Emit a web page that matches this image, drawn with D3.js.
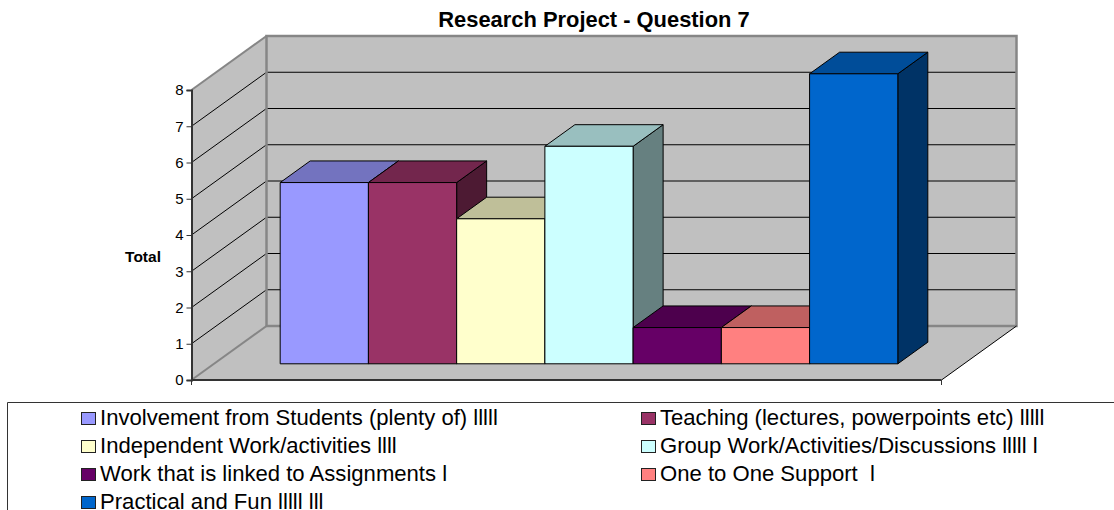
<!DOCTYPE html>
<html>
<head>
<meta charset="utf-8">
<script src="https://cdn.jsdelivr.net/npm/d3@7"></script>
<style>
html, body { margin: 0; padding: 0; background: #fff; overflow: hidden; }
svg { display: block; }
text { font-family: "Liberation Sans", Arial, sans-serif; fill: #000; }
</style>
</head>
<body>
<svg id="chart" width="1114" height="510"></svg>
<script>
var categories = [
    'Involvement from Students (plenty of) lllll',
    'Teaching (lectures, powerpoints etc) lllll',
    'Independent Work/activities llll',
    'Group Work/Activities/Discussions lllll l',
    'Work that is linked to Assignments l',
    'One to One Support  l',
    'Practical and Fun lllll lll'
];
var totals = [5, 5, 4, 6, 1, 1, 8];
var barColors = ['#9999ff', '#993366', '#ffffcc', '#ccffff', '#660066', '#ff8080', '#0066cc'];
var yTicks = [0, 1, 2, 3, 4, 5, 6, 7, 8];

var svg = d3.select('#chart');

// front plane of the box, the back wall is the same thing shifted by depth
var x = d3.scaleBand().domain(categories).range([191.5, 941.5]).paddingInner(0).paddingOuter(0.75);
var y = d3.scaleLinear().domain([0, 8]).range([380, 90]);
var depthX = 75, depthY = -54;

function pt(px, py, z) {
    return [px + z * depthX, py + z * depthY];
}
function poly(points) {
    return d3.line()(points) + 'Z';
}

var left = x.range()[0], right = x.range()[1];
var wallGrey = '#c0c0c0', edgeGrey = '#868686';

// back wall
svg.append('path')
    .attr('d', poly([pt(left, y(8), 1), pt(right, y(8), 1), pt(right, y(0), 1), pt(left, y(0), 1)]))
    .attr('fill', wallGrey).attr('stroke', 'none');

// side wall
svg.append('path')
    .attr('d', poly([pt(left, y(8), 0), pt(left, y(8), 1), pt(left, y(0), 1), pt(left, y(0), 0)]))
    .attr('fill', wallGrey).attr('stroke', 'none');

// floor
svg.append('path')
    .attr('d', poly([pt(left, y(0), 0), pt(left, y(0), 1), pt(right, y(0), 1), pt(right, y(0), 0)]))
    .attr('fill', wallGrey).attr('stroke', 'none');

// gridlines
yTicks.slice(1, -1).forEach(function(t) {
    svg.append('path')
        .attr('d', d3.line()([pt(left, y(t), 0), pt(left, y(t), 1), pt(right, y(t), 1)]))
        .attr('fill', 'none').attr('stroke', '#000').attr('stroke-width', 1);
});

// wall edges
svg.append('path')
    .attr('d', poly([pt(left, y(8), 1), pt(right, y(8), 1), pt(right, y(0), 1), pt(left, y(0), 1)]))
    .attr('fill', 'none').attr('stroke', edgeGrey).attr('stroke-width', 2.5);
svg.append('path')
    .attr('d', d3.line()([pt(left, y(8), 0), pt(left, y(8), 1)]))
    .attr('stroke', edgeGrey).attr('stroke-width', 2);
svg.append('path')
    .attr('d', d3.line()([pt(left, y(0), 0), pt(left, y(0), 1)]))
    .attr('stroke', edgeGrey).attr('stroke-width', 2);
svg.append('path')
    .attr('d', d3.line()([pt(right, y(0), 0), pt(right, y(0), 1)]))
    .attr('stroke', '#000').attr('stroke-width', 1);

// bars, left to right so each one covers the side of the one before
var zFront = 0.3, zBack = 0.7;
var bars = svg.selectAll('g.bar').data(categories).enter()
    .append('g').attr('class', 'bar');

bars.each(function(d, i) {
    var g = d3.select(this);
    var x0 = x(d), x1 = x(d) + x.bandwidth();
    var top = y(totals[i]), bot = y(0);
    var base = d3.rgb(barColors[i]);

    g.append('path')
        .attr('d', poly([pt(x1, top, zFront), pt(x1, top, zBack), pt(x1, bot, zBack), pt(x1, bot, zFront)]))
        .attr('fill', d3.rgb(base.r * 0.5, base.g * 0.5, base.b * 0.5));
    g.append('path')
        .attr('d', poly([pt(x0, top, zFront), pt(x0, top, zBack), pt(x1, top, zBack), pt(x1, top, zFront)]))
        .attr('fill', d3.rgb(base.r * 0.75, base.g * 0.75, base.b * 0.75));
    g.append('path')
        .attr('d', poly([pt(x0, top, zFront), pt(x1, top, zFront), pt(x1, bot, zFront), pt(x0, bot, zFront)]))
        .attr('fill', base);
    g.selectAll('path').attr('stroke', '#000').attr('stroke-width', 1).attr('stroke-linejoin', 'round');
});

// y axis
var yAxis = d3.axisLeft(y).tickValues(yTicks).tickFormat(d3.format('d')).tickSize(5).tickPadding(3);
var yAxisG = svg.append('g').attr('transform', 'translate(' + left + ',0)').call(yAxis);
yAxisG.select('.domain').attr('stroke', '#333').attr('stroke-width', 2);
yAxisG.selectAll('.tick line').attr('stroke', '#333');
yAxisG.selectAll('.tick text').attr('font-size', 15).attr('font-family', '"Liberation Sans", Arial, sans-serif');

// front edge of floor
svg.append('line')
    .attr('x1', left).attr('x2', right).attr('y1', y(0)).attr('y2', y(0))
    .attr('stroke', '#333').attr('stroke-width', 2);
[left, right].forEach(function(px) {
    svg.append('line')
        .attr('x1', px).attr('x2', px).attr('y1', y(0)).attr('y2', y(0) + 5)
        .attr('stroke', '#333');
});

// titles
svg.append('text').attr('x', 594).attr('y', 27).attr('text-anchor', 'middle')
    .attr('font-size', 21.9).attr('font-weight', 'bold').text('Research Project - Question 7');
svg.append('text').attr('x', 143).attr('y', 262).attr('text-anchor', 'middle')
    .attr('font-size', 15.5).attr('font-weight', 'bold').text('Total');

// legend box runs off the right and bottom of the picture
svg.append('path')
    .attr('d', 'M7.5,511V402.5H1115')
    .attr('fill', 'none').attr('stroke', '#333').attr('stroke-width', 1);

var legendX = [81, 641], legendY = 417, legendStep = 28;
var items = svg.selectAll('g.item').data(categories).enter()
    .append('g').attr('class', 'item')
    .attr('transform', function(d, i) {
        return 'translate(' + legendX[i % 2] + ',' + (legendY + Math.floor(i / 2) * legendStep) + ')';
    });
items.append('rect')
    .attr('x', 0.5).attr('y', -4.5).attr('width', 14).attr('height', 12)
    .attr('fill', function(d, i) { return barColors[i]; })
    .attr('stroke', '#222');
items.append('text')
    .attr('x', 19).attr('y', 7.5).attr('font-size', 22.1)
    .attr('xml:space', 'preserve').style('white-space', 'pre')
    .text(function(d) { return d; });
</script>
</body>
</html>
